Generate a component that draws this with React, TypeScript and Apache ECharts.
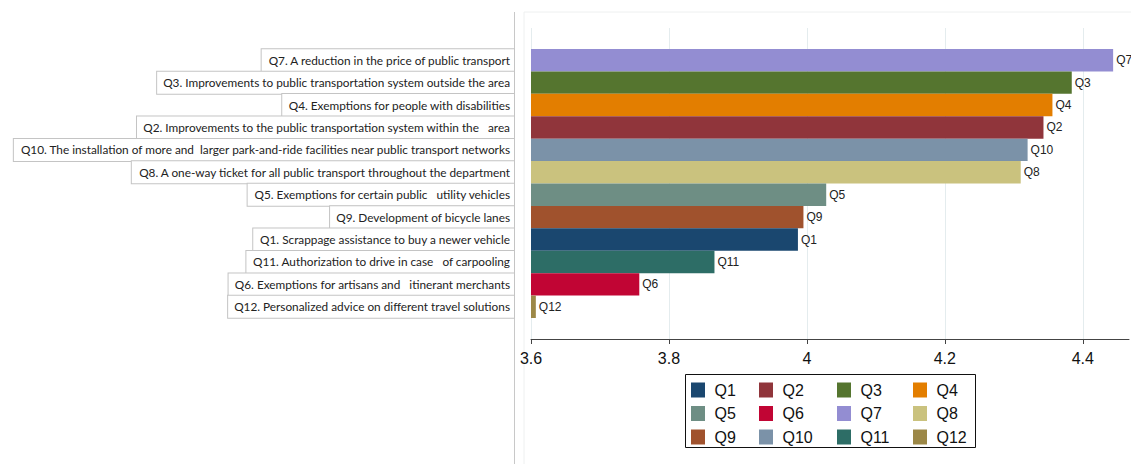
import React, { useEffect, useRef } from "react";
import * as echarts from "echarts";

// ---- Data (top to bottom) ----
const codes = ["Q7", "Q3", "Q4", "Q2", "Q10", "Q8", "Q5", "Q9", "Q1", "Q11", "Q6", "Q12"];
const categories = [
  "Q7. A reduction in the price of public transport",
  "Q3. Improvements to public transportation system outside the area",
  "Q4. Exemptions for people with disabilities",
  "Q2. Improvements to the public transportation system within the   area",
  "Q10. The installation of more and  larger park-and-ride facilities near public transport networks",
  "Q8. A one-way ticket for all public transport throughout the department",
  "Q5. Exemptions for certain public   utility vehicles",
  "Q9. Development of bicycle lanes",
  "Q1. Scrappage assistance to buy a newer vehicle",
  "Q11. Authorization to drive in case   of carpooling",
  "Q6. Exemptions for artisans and   itinerant merchants",
  "Q12. Personalized advice on different travel solutions",
];
const values = [4.444, 4.384, 4.356, 4.343, 4.32, 4.31, 4.028, 3.995, 3.987, 3.866, 3.757, 3.607];
// legend columns (each column listed top to bottom)
const legendColumns = [
  ["Q1", "Q5", "Q9"],
  ["Q2", "Q6", "Q10"],
  ["Q3", "Q7", "Q11"],
  ["Q4", "Q8", "Q12"],
];
const colorMap: Record<string, string> = {
  Q1: "#1a476f",
  Q2: "#90353b",
  Q3: "#55752f",
  Q4: "#e37e00",
  Q5: "#6e8e84",
  Q6: "#c10534",
  Q7: "#938dd2",
  Q8: "#cac27e",
  Q9: "#a0522d",
  Q10: "#7b92a8",
  Q11: "#2d6d66",
  Q12: "#9c8847",
};
const xTicks = [3.6, 3.8, 4.0, 4.2, 4.4];
const X_MIN = 3.6;
const X_MAX = 4.467;

const LABEL_FONT = "Lato, 'Open Sans', sans-serif";
const ARIAL = "'Liberation Sans', Arial, sans-serif";

const LEGEND_COL_X = [691, 759, 837, 913];

export default function App() {
  const ref = useRef<HTMLDivElement>(null);
  useEffect(() => {
    if (!ref.current) return;
    const chart = echarts.init(ref.current, undefined, { renderer: "svg" });

    const series = codes.map((code, i) => ({
      type: "bar",
      name: code,
      xAxisIndex: 1,
      yAxisIndex: 1,
      data: categories.map((_, j) => (j === i ? values[i] : null)),
      barGap: "-100%",
      barCategoryGap: 0,
      itemStyle: { color: colorMap[code] },
      label: {
        show: true,
        position: "right",
        distance: 3,
        formatter: "{a}",
        fontFamily: ARIAL,
        fontSize: 12,
        color: "#222",
      },
      emphasis: { disabled: true },
    }));

    const legends = legendColumns.map((col, k) => ({
      data: col,
      orient: "vertical",
      left: LEGEND_COL_X[k],
      top: 382,
      padding: 0,
      itemWidth: 14,
      itemHeight: 15,
      itemGap: 7.5,
      selectedMode: false,
      icon: "rect",
      formatter: " {name}",
      textStyle: {
        fontFamily: ARIAL,
        fontSize: 16,
        lineHeight: 15,
        color: "#111",
      },
    }));

    chart.setOption({
      animation: false,
      backgroundColor: "#fff",
      graphic: [
        {
          type: "rect",
          shape: { x: 524, y: 12, width: 640, height: 470 },
          style: { fill: "none", stroke: "#eef0f0", lineWidth: 1 },
          silent: true,
          z: -10,
        },
        {
          type: "line",
          shape: { x1: 514.5, y1: 12, x2: 514.5, y2: 464 },
          style: { stroke: "#c8c8c8", lineWidth: 1 },
          silent: true,
        },
        {
          type: "rect",
          shape: { x: 685.5, y: 374.5, width: 290, height: 73 },
          style: { fill: "none", stroke: "#111", lineWidth: 1 },
          silent: true,
        },
      ],
      grid: [
        { left: 531, top: 28, width: 598, height: 311, containLabel: false },
        { left: 531, top: 49, width: 598, height: 269, containLabel: false },
      ],
      xAxis: [
        {
          type: "value",
          gridIndex: 0,
          min: X_MIN,
          max: X_MAX,
          interval: 0.2,
          axisLine: { show: true, lineStyle: { color: "#444", width: 1 } },
          axisTick: { show: true, length: 5, lineStyle: { color: "#444" }, customValues: xTicks },
          axisLabel: {
            customValues: xTicks,
            margin: 11,
            fontFamily: ARIAL,
            fontSize: 16,
            color: "#111",
            formatter: (v: number) =>
              xTicks.some((t) => Math.abs(t - v) < 1e-6) ? String(Math.round(v * 10) / 10) : "",
          },
          splitLine: { show: true, lineStyle: { color: "#e4ecee", width: 1 }, customValues: xTicks },
        },
        {
          type: "value",
          gridIndex: 1,
          min: X_MIN,
          max: X_MAX,
          show: false,
          splitLine: { show: false },
        },
      ],
      yAxis: [
        { type: "value", gridIndex: 0, show: false, splitLine: { show: false } },
        {
          type: "category",
          gridIndex: 1,
          inverse: true,
          data: categories,
          axisLine: { show: false },
          axisTick: { show: false },
          axisLabel: {
            interval: 0,
            showMinLabel: true,
            showMaxLabel: true,
            hideOverlap: false,
            margin: 17,
            fontFamily: LABEL_FONT,
            fontSize: 11.8,
            color: "#222",
            lineHeight: 22,
            padding: [0, 4, 0, 6],
            borderColor: "#c4c4c4",
            borderWidth: 1,
            backgroundColor: "#fff",
          },
        },
      ],
      legend: legends,
      series,
    });
    return () => chart.dispose();
  }, []);
  return (
    <div
      ref={ref}
      style={{ position: "fixed", left: 0, top: 0, width: 1131, height: 464, background: "#fff" }}
    />
  );
}
